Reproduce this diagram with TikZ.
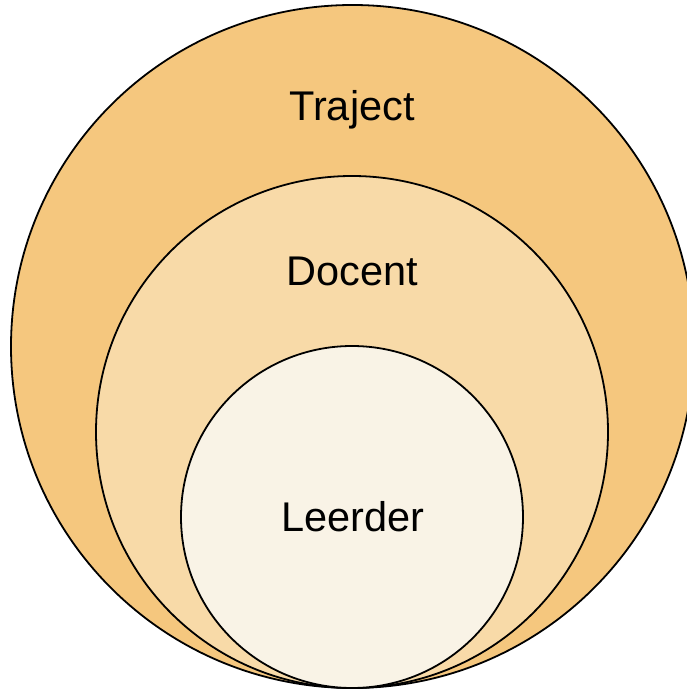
\documentclass[tikz,border=0pt]{standalone}
\usepackage{fontspec}
\setmainfont{Liberation Sans}
\definecolor{outerfill}{RGB}{245,199,126}
\definecolor{midfill}{RGB}{248,218,168}
\definecolor{innerfill}{RGB}{249,243,230}
\begin{document}
\begin{tikzpicture}[x=1pt,y=1pt,
  ring/.style={circle, draw=black, line width=1.8pt, inner sep=0pt, outer sep=0pt},
  lbl/.style={anchor=base, font=\fontsize{41.5}{48}\selectfont, inner sep=0pt}]
\useasboundingbox (0,0) rectangle (687,689);
\clip (0,0) rectangle (687,689);
\node[ring, fill=outerfill, minimum size=683pt] (outer) at (352.5,342.5) {};
\node[ring, fill=midfill, minimum size=512pt] (mid) at (352,257) {};
\node[ring, fill=innerfill, minimum size=342pt] (inner) at (352,172) {};
\node[lbl] (traject) at (352,568) {Traject};
\node[lbl] (docent) at (352,403) {Docent};
\node[lbl] (leerder) at (353,157) {Leerder};
\end{tikzpicture}
\end{document}
